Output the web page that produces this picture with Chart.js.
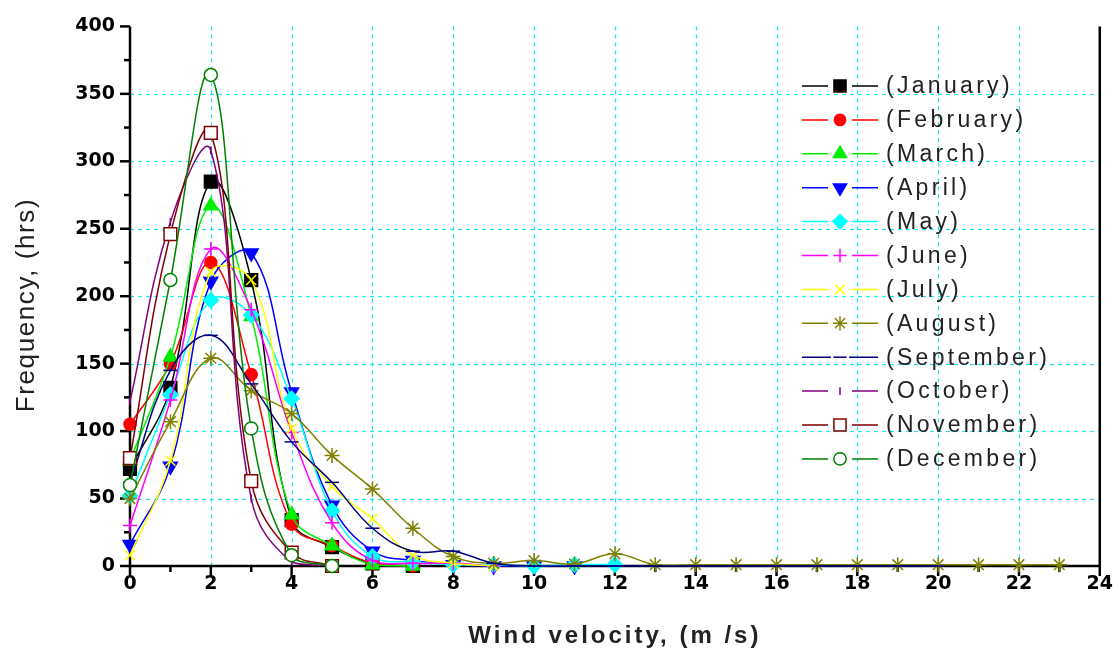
<!DOCTYPE html>
<html><head><meta charset="utf-8">
<script src="https://cdn.jsdelivr.net/npm/chart.js@4.4.1/dist/chart.umd.min.js"></script>
<style>html,body{margin:0;padding:0;background:#fff}#wrap{width:1120px;height:653px}</style>
</head><body><div id="wrap"><canvas id="c" width="1120" height="653"></canvas></div>
<script>
// ---- data ----
const windSpeed = [0,1,2,3,4,5,6,7,8,9,10,11,12,13,14,15,16,17,18,19,20,21,22,23];
const monthLabels = ['(January)','(February)','(March)','(April)','(May)','(June)','(July)','(August)','(September)','(October)','(November)','(December)'];
const january   = [72,132,285,212,34,14,2,0];
const february  = [105,150,225,142,31,15,2,0];
const march     = [78,155,267,185,38,15,1,0];
const april     = [16,74,211,232,129,45,11,4,1,0,0,0];
const may       = [52,127,197,186,124,41,7,3,1,1,0,1,1];
const june      = [30,123,235,190,99,32,4,2,2,0];
const july      = [8,78,218,212,102,59,35,8,2,0];
const august    = [50,107,154,130,113,82,57,28,7,2,4,1.5,9,1,1,1,1,1,1,1,1,1,1,1];
const september = [62,145,171,135,92,62,28,11,11,2,0,0,0,0,0,0,0,0,0,0,0];
const october   = [122,255,308,50,3,0];
const november  = [80,246,321,63,10,0];
const december  = [60,212,364,102,8,0];
const yTickValues = [0,50,100,150,200,250,300,350,400];
const xTickValues = [0,2,4,6,8,10,12,14,16,18,20,22,24];

const series = [january,february,march,april,may,june,july,august,september,october,november,december];
const colors = ['#000000','#ff0000','#00ee00','#0000ff','#00ffff','#ff00ff','#ffff00','#808000','#000080','#800080','#800000','#008000'];
const styles = [
  {ps:'rect', r:9, rot:0, fill:true},
  {ps:'circle', r:6, rot:0, fill:true},
  {ps:'triangle', r:8, rot:0, fill:true},
  {ps:'triangle', r:8, rot:180, fill:true},
  {ps:'rectRot', r:7.5, rot:0, fill:true},
  {ps:'cross', r:7, rot:0, fill:true},
  {ps:'crossRot', r:7, rot:0, fill:true},
  {ps:'star', r:7.5, rot:0, fill:true},
  {ps:'line', r:7, rot:0, fill:true},
  {ps:'line', r:4, rot:90, fill:true},
  {ps:'rect', r:9, rot:0, fill:false},
  {ps:'circle', r:6.5, rot:0, fill:false}
];

const datasets = series.map((vals, i) => ({
  label: monthLabels[i],
  data: vals.map((v, k) => ({x: windSpeed[k], y: v})),
  borderColor: colors[i],
  backgroundColor: styles[i].fill ? colors[i] : '#ffffff',
  pointBorderColor: colors[i],
  pointBackgroundColor: styles[i].fill ? colors[i] : '#ffffff',
  pointStyle: styles[i].ps,
  pointRadius: styles[i].r,
  pointRotation: styles[i].rot,
  pointBorderWidth: 1.5,
  borderWidth: 1.5,
  tension: 0.4,
  fill: false,
  clip: false,
  order: 12 - i
}));

const GRID = '#22e3ef';
const framePlugin = {
  id: 'frame',
  beforeDatasetsDraw(chart) {
    const {ctx, chartArea: a, scales: {x, y}} = chart;
    ctx.save();
    ctx.strokeStyle = GRID; ctx.lineWidth = 1.2; ctx.setLineDash([4, 4]);
    xTickValues.forEach(v => { if (v > 0 && v < 24) { const px = Math.round(x.getPixelForValue(v)) + 0.5; ctx.beginPath(); ctx.moveTo(px, a.top); ctx.lineTo(px, a.bottom); ctx.stroke(); } });
    yTickValues.forEach(v => { if (v > 0 && v < 400) { const py = Math.round(y.getPixelForValue(v)) + 0.5; ctx.beginPath(); ctx.moveTo(a.left, py); ctx.lineTo(a.right, py); ctx.stroke(); } });
    ctx.setLineDash([]);
    ctx.strokeStyle = '#000'; ctx.lineWidth = 2.5;
    for (let v = 0; v <= 24; v++) {
      const px = x.getPixelForValue(v); const len = v % 2 === 0 ? 10 : 6;
      ctx.beginPath(); ctx.moveTo(px, a.bottom); ctx.lineTo(px, a.bottom + len); ctx.stroke();
    }
    for (let v = 0; v <= 400; v += 25) {
      const py = y.getPixelForValue(v); const len = v % 50 === 0 ? 10 : 6;
      ctx.beginPath(); ctx.moveTo(a.left, py); ctx.lineTo(a.left - len, py); ctx.stroke();
    }
    ctx.lineWidth = 2.5;
    ctx.beginPath(); ctx.moveTo(a.left, a.top); ctx.lineTo(a.left, a.bottom); ctx.lineTo(a.right, a.bottom); ctx.lineTo(a.right, a.top); ctx.stroke();
    ctx.restore();
  },
  afterDraw(chart) {
    const {ctx, chartArea: a} = chart;
    ctx.save();
    const lx0 = 802, lx1 = 878, mx = 840, ty0 = 86, dy = 33.9;
    ctx.font = '23px "Liberation Sans", Arial, sans-serif';
    try { ctx.letterSpacing = '3.3px'; } catch (e) {}
    ctx.textBaseline = 'middle'; ctx.textAlign = 'left';
    chart.data.datasets.forEach((ds, i) => {
      const yy = ty0 + i * dy;
      const st = styles[i];
      ctx.strokeStyle = colors[i]; ctx.lineWidth = 1.5;
      const gap = i === 8 ? 9 : 12;
      ctx.beginPath(); ctx.moveTo(lx0, yy); ctx.lineTo(mx - gap, yy); ctx.moveTo(mx + gap, yy); ctx.lineTo(lx1, yy); ctx.stroke();
      ctx.fillStyle = st.fill ? colors[i] : '#fff';
      ctx.strokeStyle = colors[i]; ctx.lineWidth = 1.5;
      Chart.helpers.drawPoint(ctx, {pointStyle: st.ps, radius: st.r * 0.95, rotation: st.rot, borderWidth: 1.5}, mx, yy);
      ctx.fillStyle = '#222';
      ctx.fillText(ds.label, 886, yy + 1);
    });
    ctx.fillStyle = '#222';
    ctx.font = 'bold 24px "Liberation Sans", Arial, sans-serif';
    try { ctx.letterSpacing = '3px'; } catch (e) {}
    ctx.textAlign = 'center'; ctx.textBaseline = 'middle';
    ctx.fillText('Wind velocity, (m /s)', (a.left + a.right) / 2, 636);
    ctx.font = '26px "Liberation Sans", Arial, sans-serif';
    try { ctx.letterSpacing = '1.6px'; } catch (e) {}
    ctx.translate(27, 305); ctx.rotate(-Math.PI / 2);
    ctx.fillText('Frequency, (hrs)', 0, 0);
    ctx.restore();
  }
};

new Chart(document.getElementById('c'), {
  type: 'line',
  data: { datasets },
  options: {
    responsive: false, animation: false, devicePixelRatio: 1,
    layout: { padding: { left: 0, top: 15, right: 20, bottom: 0 } },
    plugins: { legend: { display: false }, tooltip: { enabled: false } },
    scales: {
      x: {
        type: 'linear', min: 0, max: 24,
        grid: { display: false, drawTicks: false }, border: { display: false },
        afterBuildTicks: s => { s.ticks = xTickValues.map(v => ({value: v})); },
        ticks: { font: { family: '"DejaVu Sans", sans-serif', weight: 'bold', size: 19 }, color: '#000', padding: 7, maxRotation: 0, autoSkip: false },
        afterFit: s => { s.height = 87; }
      },
      y: {
        type: 'linear', min: 0, max: 400,
        grid: { display: false, drawTicks: false }, border: { display: false },
        afterBuildTicks: s => { s.ticks = yTickValues.map(v => ({value: v})); },
        ticks: { font: { family: '"DejaVu Sans", sans-serif', weight: 'bold', size: 19 }, color: '#000', padding: 15 },
        afterFit: s => { s.width = 130; }
      }
    }
  },
  plugins: [framePlugin]
});
</script></body></html>
